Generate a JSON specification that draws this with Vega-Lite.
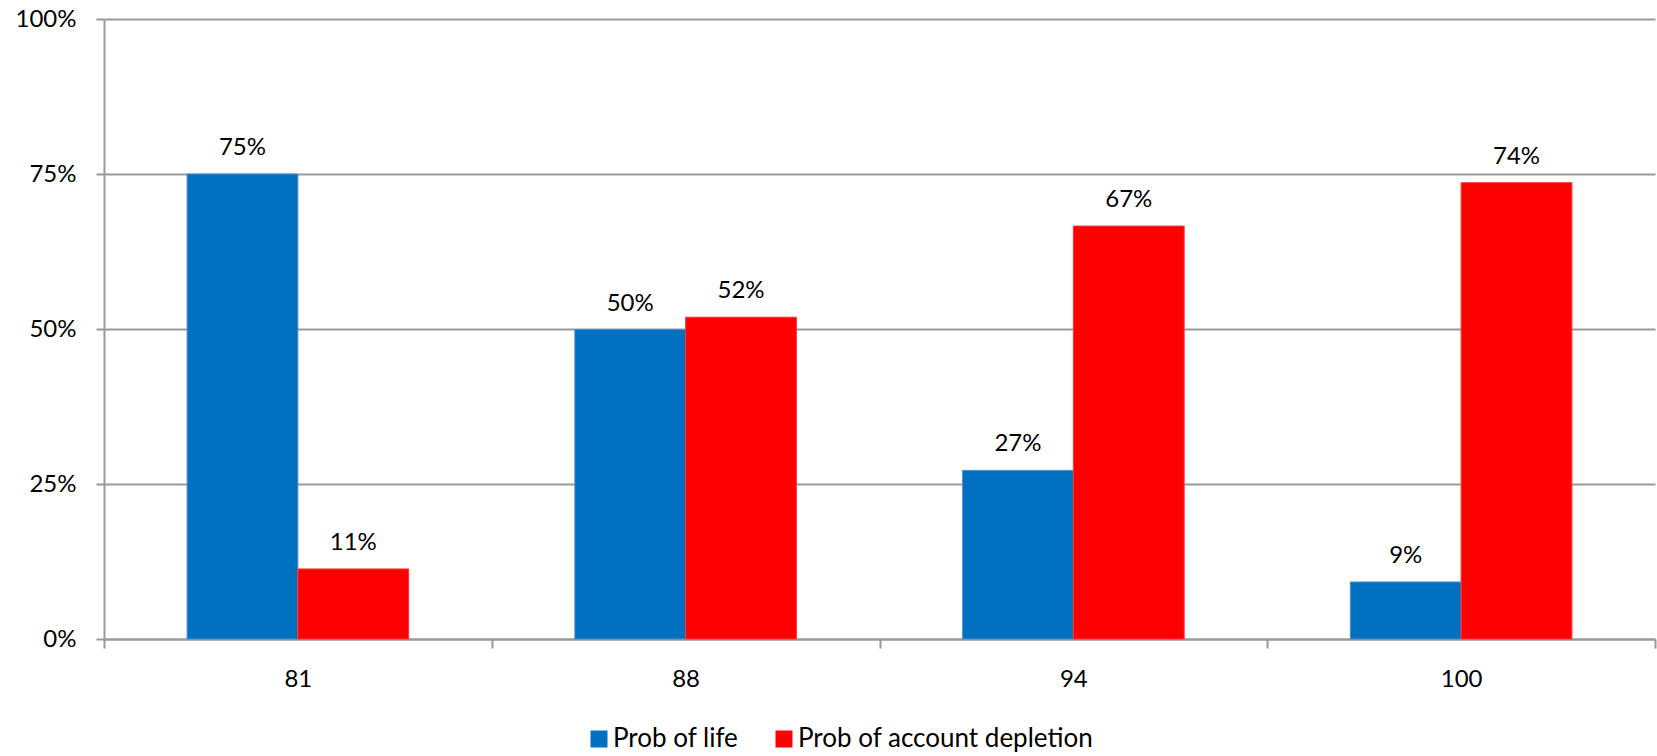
{
  "$schema": "https://vega.github.io/schema/vega-lite/v6.json",
  "width": 1551,
  "height": 620,
  "autosize": {"type": "none"},
  "padding": {"left": 104, "top": 19, "right": 2, "bottom": 117},
  "background": "white",
  "config": {"view": {"stroke": null}, "font": "Lato"},
  "data": {
    "values": [
      {"age": "81", "series": "Prob of life", "value": 0.75},
      {"age": "81", "series": "Prob of account depletion", "value": 0.113},
      {"age": "88", "series": "Prob of life", "value": 0.499},
      {"age": "88", "series": "Prob of account depletion", "value": 0.519},
      {"age": "94", "series": "Prob of life", "value": 0.272},
      {"age": "94", "series": "Prob of account depletion", "value": 0.666},
      {"age": "100", "series": "Prob of life", "value": 0.092},
      {"age": "100", "series": "Prob of account depletion", "value": 0.736}
    ]
  },
  "encoding": {
    "x": {
      "field": "age", "type": "nominal", "sort": ["81", "88", "94", "100"],
      "scale": {"paddingInner": 0, "paddingOuter": 0},
      "axis": {
        "title": null, "labelAngle": 0, "tickBand": "extent", "tickSize": 9, "tickWidth": 2,
        "tickColor": "#999999", "domainColor": "#999999", "domainWidth": 2,
        "labelPadding": 19, "labelFontSize": 24, "labelColor": "#000000", "labelFont": "Lato", "grid": false
      }
    },
    "xOffset": {
      "field": "series", "type": "nominal", "sort": ["Prob of life", "Prob of account depletion"],
      "scale": {"paddingInner": 0, "paddingOuter": 0.75}
    },
    "y": {
      "field": "value", "type": "quantitative",
      "scale": {"domain": [0, 1]},
      "axis": {
        "title": null, "values": [0, 0.25, 0.5, 0.75, 1], "format": ".0%",
        "grid": true, "gridColor": "#999999", "gridWidth": 2,
        "domainColor": "#999999", "domainWidth": 2, "tickColor": "#999999", "tickWidth": 2,
        "tickSize": 8, "labelPadding": 20, "labelFontSize": 24, "labelColor": "#000000", "labelFont": "Lato"
      }
    }
  },
  "layer": [
    {
      "mark": {"type": "bar", "strokeWidth": 1},
      "encoding": {
        "color": {
          "field": "series", "type": "nominal",
          "sort": ["Prob of life", "Prob of account depletion"],
          "scale": {"domain": ["Prob of life", "Prob of account depletion"], "range": ["#0070C0", "#FF0000"]},
          "legend": {
            "orient": "none", "direction": "horizontal", "legendX": 482, "legendY": 707,
            "title": null, "symbolType": "square", "symbolSize": 289, "labelFontSize": 26,
            "labelFont": "Lato", "labelColor": "#000000", "labelOffset": 1, "columnPadding": 32, "padding": 0,
            "labelLimit": 600, "symbolStrokeWidth": 0
          }
        },
        "stroke": {
          "field": "series", "type": "nominal",
          "scale": {"domain": ["Prob of life", "Prob of account depletion"], "range": ["#4F8FD0", "#FF3333"]},
          "legend": null
        }
      }
    },
    {
      "mark": {"type": "text", "baseline": "alphabetic", "dy": -19, "fontSize": 24, "font": "Lato", "color": "#000000"},
      "encoding": {"text": {"field": "value", "type": "quantitative", "format": ".0%"}}
    }
  ]
}
